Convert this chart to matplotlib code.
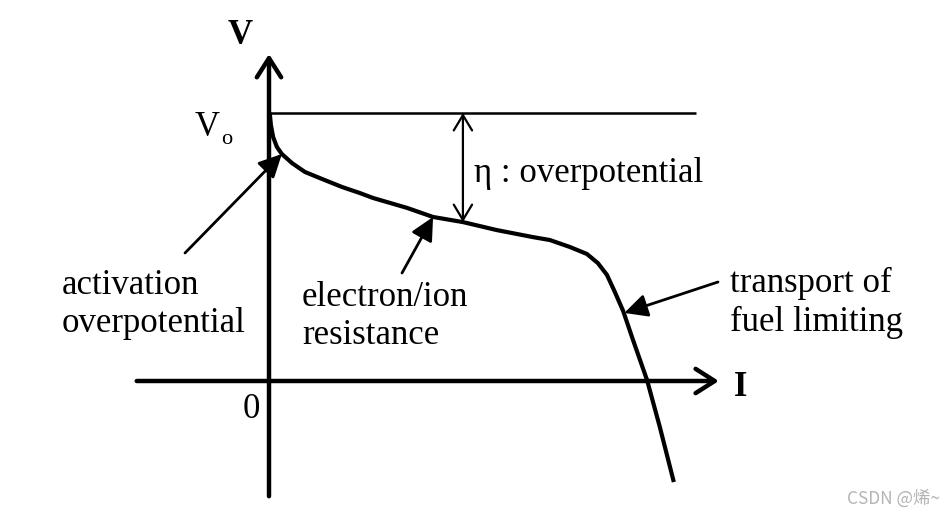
import matplotlib
matplotlib.use("Agg")
import matplotlib.pyplot as plt

# ---- data (normalised units: I / I_limit, V / V_o) ----
V0 = 1.0
curve_I = [0.002, 0.005, 0.011, 0.021, 0.034, 0.061, 0.095, 0.140, 0.193, 0.241,
           0.275, 0.365, 0.434, 0.513, 0.603, 0.698, 0.743, 0.796, 0.841, 0.870,
           0.894, 0.915, 0.937, 0.963, 1.000, 1.034, 1.071]
curve_V = [1.000, 0.955, 0.910, 0.873, 0.847, 0.813, 0.780, 0.754, 0.724, 0.701,
           0.683, 0.646, 0.612, 0.593, 0.563, 0.537, 0.526, 0.500, 0.474, 0.440,
           0.396, 0.332, 0.261, 0.153, 0.004, -0.172, -0.377]

axis_I = [-0.35, 1.19]
axis_V = [-0.43, 1.22]
eta_I = 0.513           # where the overpotential is marked
eta_V = 0.593
vo_line_I = [0.0, 1.13]

act_tip = (0.034, 0.847)
res_tip = (0.434, 0.612)
fuel_tip = (0.940, 0.254)

# ---- pixel layout helpers (figure is 945x515 px) ----
OX, OY, SX, SY = 269.0, 381.0, 378.0, 268.0
def px(x):
    return (x - OX) / SX
def py(y):
    return (OY - y) / SY

fig = plt.figure(figsize=(9.45, 5.15), dpi=100)
ax = fig.add_axes([0, 0, 1, 1])
ax.set_xlim(px(0), px(945))
ax.set_ylim(py(515), py(0))
ax.axis("off")

serif = "Liberation Serif"
fs = 25

# axes with open arrow heads
for xy, xytext in [((axis_I[1], 0), (axis_I[0], 0)),
                   ((0, axis_V[1]), (0, axis_V[0]))]:
    ax.annotate("", xy=xy, xytext=xytext,
                arrowprops=dict(arrowstyle="->,head_length=0.55,head_width=0.35",
                                lw=3.2, color="black", mutation_scale=25,
                                shrinkA=0, shrinkB=0))

# V_o line
ax.plot(vo_line_I, [V0, V0], color="black", lw=1.8, solid_capstyle="butt")

# polarization curve
ax.plot(curve_I, curve_V, color="black", lw=3.0, solid_joinstyle="round",
        solid_capstyle="butt")

# eta double arrow
ax.annotate("", xy=(eta_I, eta_V), xytext=(eta_I, V0),
            arrowprops=dict(arrowstyle="<->,head_length=0.5,head_width=0.3",
                            lw=1.6, color="black", mutation_scale=22,
                            shrinkA=0, shrinkB=0))

# pointer arrows
def pointer(tip, tail_px):
    ax.annotate("", xy=tip, xytext=(px(tail_px[0]), py(tail_px[1])),
                arrowprops=dict(arrowstyle="-|>,head_length=0.7,head_width=0.35",
                                lw=2.0, color="black", mutation_scale=20,
                                shrinkA=0, shrinkB=0))

pointer(act_tip, (185, 253))
pointer(res_tip, (402, 273))
pointer(fuel_tip, (718, 282))

# texts
ax.text(px(240), py(36), "V", fontsize=fs, fontweight="bold", family=serif,
        ha="center", va="center")
ax.text(px(741), py(388), "I", fontsize=fs, fontweight="bold", family=serif,
        ha="center", va="center")
ax.text(px(251), py(410), "0", fontsize=fs, family=serif, ha="center", va="center")
ax.text(px(195), py(128), "V", fontsize=fs, family=serif, ha="left", va="center")
ax.text(px(221), py(139), "o", fontsize=16, family=serif, ha="left", va="center")
ax.text(px(474), py(174), "\u03b7 : overpotential", fontsize=fs, family=serif,
        ha="left", va="center")
ax.text(px(62), py(304), "activation\noverpotential", fontsize=fs, family=serif,
        ha="left", va="center", linespacing=1.2)
ax.text(px(302), py(316), "electron/ion\nresistance", fontsize=fs, family=serif,
        ha="left", va="center", linespacing=1.2)
ax.text(px(730), py(303), "transport of\nfuel limiting", fontsize=fs, family=serif,
        ha="left", va="center", linespacing=1.2)

ax.text(px(940), py(499), "CSDN @烯~", fontsize=12.5, color="#b4b4b4",
        family=["Noto Sans CJK SC", "DejaVu Sans"], ha="right", va="center")

fig.savefig("out.png", dpi=100, facecolor="white")
